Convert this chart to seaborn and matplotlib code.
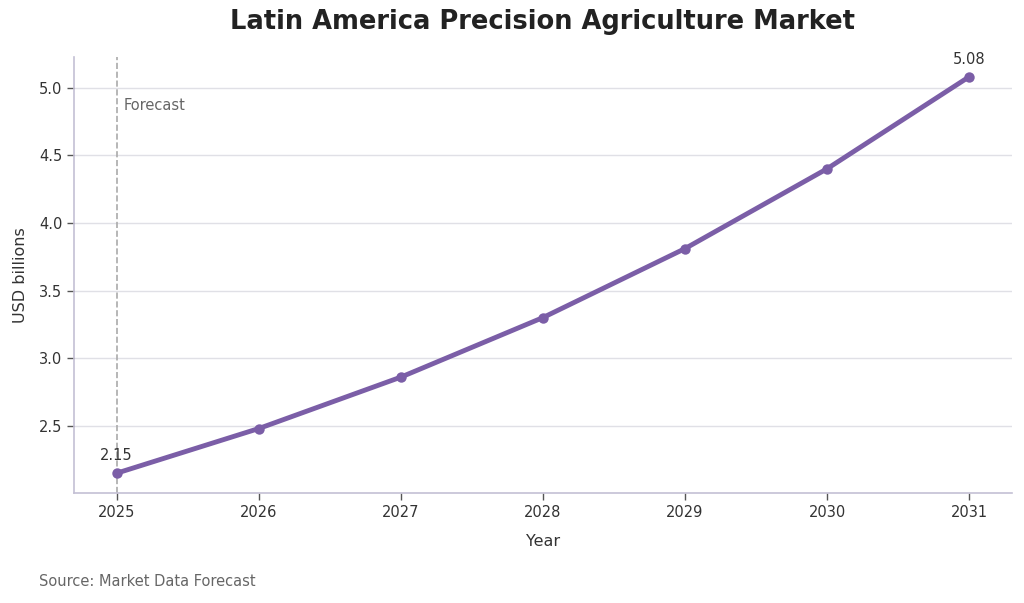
import matplotlib
matplotlib.use("Agg")
import matplotlib.pyplot as plt
import seaborn as sns
import pandas as pd

years = [2025, 2026, 2027, 2028, 2029, 2030, 2031]
values = [2.15, 2.48, 2.86, 3.30, 3.81, 4.40, 5.08]
title = "Latin America Precision Agriculture Market"
source = "Source: Market Data Forecast"

sns.set_theme(style="white")
plt.rcParams['font.family'] = ['DejaVu Sans']

df = pd.DataFrame({"Year": years, "USD billions": values})

fig = plt.figure(figsize=(10.24, 6.03), dpi=100)
ax = fig.add_axes([0.0723, 0.1824, 0.9157, 0.7231])

color = "#7b5ea7"
sns.lineplot(data=df, x="Year", y="USD billions", ax=ax, color=color,
             linewidth=3.5, marker="o", markersize=7.5, markeredgewidth=0)

ax.axvline(years[0], color="#aaaaaa", linestyle="--", linewidth=1.2, zorder=1)
ax.text(years[0] + 0.05, 4.87, "Forecast", color="#666666", fontsize=10.5,
        ha="left", va="center")

ax.annotate(f"{values[0]:.2f}", (years[0], values[0]), xytext=(0, 7),
            textcoords="offset points", ha="center", va="bottom",
            fontsize=10.5, color="#333333")
ax.annotate(f"{values[-1]:.2f}", (years[-1], values[-1]), xytext=(0, 7),
            textcoords="offset points", ha="center", va="bottom",
            fontsize=10.5, color="#333333")

ax.set_xticks(years)
ax.set_xticklabels([str(y) for y in years])
ax.set_yticks([2.5, 3.0, 3.5, 4.0, 4.5, 5.0])
ax.yaxis.grid(True, color="#e0e0e6", linewidth=1)
ax.xaxis.grid(False)
ax.set_axisbelow(True)

for s in ["top", "right"]:
    ax.spines[s].set_visible(False)
for s in ["left", "bottom"]:
    ax.spines[s].set_color("#c4c0d4")
    ax.spines[s].set_linewidth(1.2)

ax.tick_params(axis="both", which="major", length=5, width=1, color="#555555",
               labelsize=10.5, labelcolor="#333333", bottom=True, left=True)

ax.set_xlabel("Year", fontsize=11.5, color="#333333", labelpad=10)
ax.set_ylabel("USD billions", fontsize=11.5, color="#333333", labelpad=8)
ax.set_title(title, fontsize=18.5, fontweight="bold", color="#222222", pad=20)

fig.text(39 / 1024, 1 - 582 / 603, source, fontsize=10.5, color="#666666",
         ha="left", va="center")

fig.savefig("out.png", dpi=100, facecolor="white")
